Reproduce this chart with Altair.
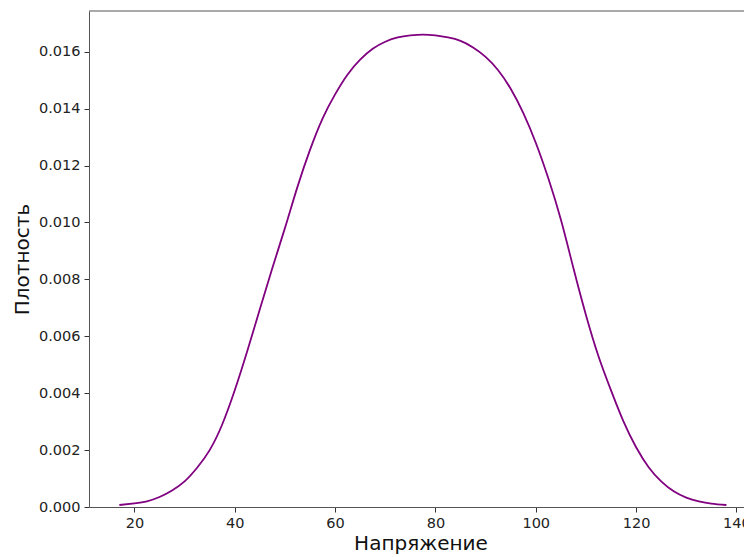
import altair as alt
import pandas as pd

# Values
voltage = [17, 20, 22.5, 25, 27.5, 30, 32.5, 35, 37.5, 40, 42.5, 45, 47.5, 50, 52.5,
           55, 57.5, 60, 62.5, 65, 67.5, 70, 72.5, 75, 77.5, 80, 82.5, 85, 87.5,
           90, 92.5, 95, 97.5, 100, 102.5, 105, 107.5, 110, 112.5, 115, 117.5,
           120, 122.5, 125, 127.5, 130, 132.5, 135, 138]
density = [0.00007, 0.00013, 0.0002, 0.00035, 0.00058, 0.0009, 0.00138, 0.0020,
           0.0029, 0.0041, 0.00548, 0.00695, 0.0084, 0.0098, 0.01125,
           0.01255, 0.01365, 0.0145, 0.0152, 0.01572, 0.0161, 0.01635, 0.0165,
           0.01657, 0.0166, 0.01657, 0.0165, 0.01638, 0.01615,
           0.01582, 0.01535, 0.0147, 0.01385, 0.0128, 0.01155, 0.0101, 0.0084,
           0.00675, 0.0053, 0.0041, 0.0030,
           0.0021, 0.0014, 0.0009, 0.00055, 0.00033, 0.0002, 0.00012, 0.00007]
x_ticks = [20, 40, 60, 80, 100, 120, 140]
y_ticks = [0.000, 0.002, 0.004, 0.006, 0.008, 0.010, 0.012, 0.014, 0.016]

df = pd.DataFrame({"x": voltage, "y": density})

W, H = 663, 496
FONT = "DejaVu Sans"

line = alt.Chart(df).mark_line(color="#800080", strokeWidth=1.8, interpolate="natural").encode(
    x=alt.X("x:Q", scale=alt.Scale(domain=[10.95, 143.1], nice=False, zero=False),
            axis=alt.Axis(values=x_ticks, title="Напряжение", format="d", grid=False,
                          titlePadding=4)),
    y=alt.Y("y:Q", scale=alt.Scale(domain=[0, 0.01743], nice=False),
            axis=alt.Axis(values=y_ticks, title="Плотность", format=".3f", grid=False,
                          titlePadding=6)),
)

top = alt.Chart(pd.DataFrame({"a": [0]})).mark_rule(color="#555555", strokeWidth=1).encode(
    x=alt.value(0), x2=alt.value(W), y=alt.value(0)
)

chart = alt.layer(line, top).properties(
    width=W, height=H,
    autosize=alt.AutoSizeParams(type="none"),
    padding={"left": 81, "top": 3, "right": -8, "bottom": 50},
).configure_view(stroke=None).configure_axis(
    domainColor="#555555", domainWidth=1, tickColor="#333333", tickSize=5,
    labelFont=FONT, labelFontSize=14.5, labelColor="#222222", labelPadding=4,
    titleFont=FONT, titleFontSize=20, titleFontWeight="normal", titleColor="#111111",
)

chart.save("out.html", embed_options={"renderer": "svg", "actions": False})
